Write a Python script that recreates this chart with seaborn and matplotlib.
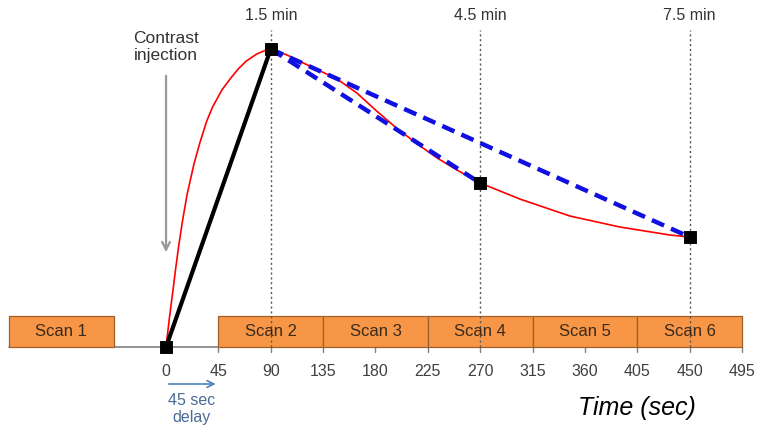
import numpy as np
import pandas as pd
import matplotlib.pyplot as plt
import seaborn as sns
from matplotlib.patches import Rectangle

# DATA
curve_t = [0, 3, 6, 8, 11, 14, 18, 24, 29, 35, 40, 48, 55, 62, 69, 78, 86, 90,
           104, 118, 147, 164, 181, 198, 216, 233, 250, 264, 270, 304, 347, 390, 433, 450]
curve_y = [0, 30, 57, 76, 102, 125, 152, 183, 204, 226, 240, 257, 268, 278, 286, 293, 297, 298,
           292, 284, 268, 254, 236, 219, 203, 189, 177, 168, 164, 148, 131, 120, 112, 110]

sample_t = [0, 90, 270, 450]
sample_y = [0, 298, 164, 110]

scan_labels = ["Scan 1", "Scan 2", "Scan 3", "Scan 4", "Scan 5", "Scan 6"]
scan_start = [-135, 45, 135, 225, 315, 405]
scan_end = [-45, 135, 225, 315, 405, 495]

tick_vals = [0, 45, 90, 135, 180, 225, 270, 315, 360, 405, 450, 495]
marker_t = [90, 270, 450]
marker_labels = ["1.5 min", "4.5 min", "7.5 min"]

# STYLE
sns.set_theme(style="white")
plt.rcParams["font.family"] = ["Liberation Sans", "DejaVu Sans"]

fig = plt.figure(figsize=(7.62, 4.33), dpi=100)
ax = fig.add_axes([0, 0, 1, 1])
ax.set_xlim(-142.7, 512.2)
ax.set_ylim(-86, 347)
ax.axis("off")

box_h = 31
orange = "#F79646"
edge = "#A0602C"
grey = "#808080"

# axis line + ticks
ax.plot([-135, 495], [0, 0], color=grey, lw=1.2, zorder=1)
for t in tick_vals:
    if t > 0:
        ax.plot([t, t], [0, -5], color=grey, lw=1.0, zorder=1)
    ax.text(t, -24, str(t), ha="center", va="center", fontsize=11.5, color="#404040")

# scan boxes
for lab, s, e in zip(scan_labels, scan_start, scan_end):
    ax.add_patch(Rectangle((s, 0), e - s, box_h, facecolor=orange, edgecolor=edge, lw=0.9, zorder=2))
    ax.text((s + e) / 2, box_h / 2, lab, ha="center", va="center", fontsize=12, color="#3a2a1a", zorder=3)

# dotted time markers
for t, lab in zip(marker_t, marker_labels):
    ax.plot([t, t], [0, 317], color="#555555", lw=1.0, ls=(0, (1.5, 2)), zorder=2.5)
    ax.text(t, 332, lab, ha="center", va="center", fontsize=11.5, color="#333333")

# enhancement curve
curve = pd.DataFrame({"t": curve_t, "y": curve_y})
sns.lineplot(data=curve, x="t", y="y", color="red", lw=1.2, ax=ax, zorder=4)

# sampled lines
sns.lineplot(x=sample_t[:2], y=sample_y[:2], color="black", lw=3, ax=ax, zorder=5)
for i in [2, 3]:
    sns.lineplot(x=[sample_t[1], sample_t[i]], y=[sample_y[1], sample_y[i]], color="#1010E0",
                 lw=3.2, ax=ax, zorder=5, linestyle=(0, (3, 1.7)))

sns.scatterplot(x=sample_t, y=sample_y, color="black", marker="s", s=70, ax=ax, zorder=6,
                edgecolor="black")

# contrast injection annotation
ax.text(0, 300, "Contrast\ninjection", ha="center", va="center", fontsize=12.5,
        color="#333333", linespacing=1.15)
ax.annotate("", xy=(0, 92), xytext=(0, 274),
            arrowprops=dict(arrowstyle="->", color="#999999", lw=1.6, mutation_scale=14))

# delay annotation
ax.annotate("", xy=(45, -37), xytext=(0, -37),
            arrowprops=dict(arrowstyle="->", color="#4F81BD", lw=1.2, mutation_scale=12))
ax.text(22, -62, "45 sec\ndelay", ha="center", va="center", fontsize=11.5,
        color="#4A6C96", linespacing=1.15)

ax.text(405, -61, "Time (sec)", ha="center", va="center", fontsize=18, style="italic",
        color="black")

if ax.get_legend() is not None:
    ax.get_legend().remove()

plt.savefig("out.png", dpi=100)
plt.close()
